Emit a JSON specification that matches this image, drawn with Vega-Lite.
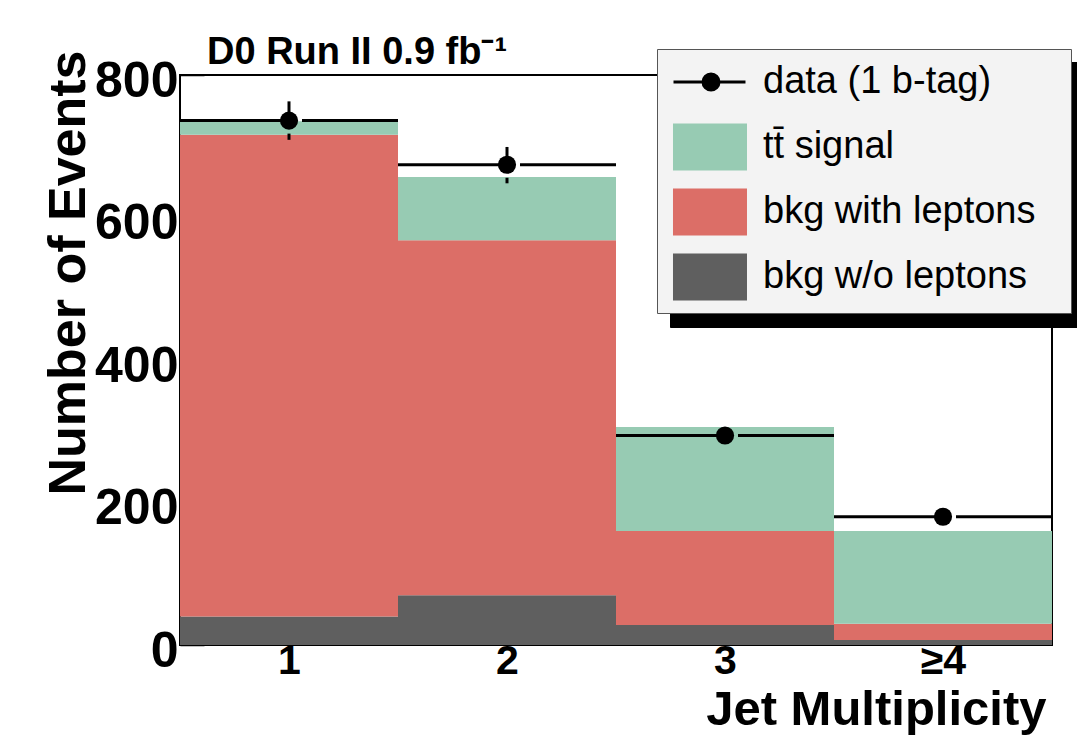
{
  "$schema": "https://vega.github.io/schema/vega-lite/v6.json",
  "width": 872,
  "height": 570,
  "autosize": {"type": "none"},
  "padding": {"left": 180, "top": 75, "right": 25, "bottom": 104},
  "background": "white",
  "title": {
    "text": "D0 Run II 0.9 fb⁻¹",
    "anchor": "start",
    "frame": "group",
    "dx": 27,
    "offset": -53,
    "baseline": "alphabetic",
    "font": "Liberation Sans",
    "fontSize": 38,
    "fontWeight": "bold",
    "color": "black"
  },
  "config": {
    "view": {"stroke": "black", "strokeWidth": 2},
    "axis": {
      "grid": false,
      "domain": false,
      "zindex": 1,
      "labelFont": "Liberation Sans",
      "labelFontWeight": "bold",
      "labelColor": "black",
      "titleFont": "Liberation Sans",
      "titleFontWeight": "bold",
      "titleColor": "black",
      "tickColor": "black",
      "tickWidth": 1.5,
      "labelOverlap": false,
      "labelFlush": false,
      "labelBound": false
    }
  },
  "datasets": {
    "stacks": [
      {"bin": "1", "lo": 0, "hi": 1, "component": "bkg w/o leptons", "order": 1, "n": 40},
      {"bin": "1", "lo": 0, "hi": 1, "component": "bkg with leptons", "order": 2, "n": 676},
      {"bin": "1", "lo": 0, "hi": 1, "component": "tt̄ signal", "order": 3, "n": 19},
      {"bin": "2", "lo": 1, "hi": 2, "component": "bkg w/o leptons", "order": 1, "n": 70},
      {"bin": "2", "lo": 1, "hi": 2, "component": "bkg with leptons", "order": 2, "n": 498},
      {"bin": "2", "lo": 1, "hi": 2, "component": "tt̄ signal", "order": 3, "n": 89},
      {"bin": "3", "lo": 2, "hi": 3, "component": "bkg w/o leptons", "order": 1, "n": 28},
      {"bin": "3", "lo": 2, "hi": 3, "component": "bkg with leptons", "order": 2, "n": 132},
      {"bin": "3", "lo": 2, "hi": 3, "component": "tt̄ signal", "order": 3, "n": 146},
      {"bin": "≥4", "lo": 3, "hi": 4, "component": "bkg w/o leptons", "order": 1, "n": 7},
      {"bin": "≥4", "lo": 3, "hi": 4, "component": "bkg with leptons", "order": 2, "n": 23},
      {"bin": "≥4", "lo": 3, "hi": 4, "component": "tt̄ signal", "order": 3, "n": 130}
    ],
    "observed": [
      {"bin": "1", "lo": 0, "mid": 0.5, "hi": 1, "series": "data (1 b-tag)", "events": 736, "up": 763, "down": 709},
      {"bin": "2", "lo": 1, "mid": 1.5, "hi": 2, "series": "data (1 b-tag)", "events": 674, "up": 699, "down": 648},
      {"bin": "3", "lo": 2, "mid": 2.5, "hi": 3, "series": "data (1 b-tag)", "events": 294, "up": 311, "down": 277},
      {"bin": "≥4", "lo": 3, "mid": 3.5, "hi": 4, "series": "data (1 b-tag)", "events": 180, "up": 193, "down": 167}
    ]
  },
  "layer": [
    {
      "data": {"name": "stacks"},
      "transform": [
        {"stack": "n", "groupby": ["bin"], "sort": [{"field": "order", "order": "ascending"}], "as": ["y0", "y1"]}
      ],
      "mark": {"type": "rect", "strokeWidth": 0},
      "encoding": {
        "x": {
          "field": "lo",
          "type": "quantitative",
          "scale": {"domain": [0, 4], "nice": false, "zero": false},
          "axis": {
            "values": [0.5, 1, 1.5, 2, 2.5, 3, 3.5],
            "labelExpr": "datum.value % 1 === 0.5 ? (datum.value === 3.5 ? '≥4' : format(datum.value + 0.5, 'd')) : ''",
            "tickSize": {"condition": {"test": "datum.value % 1 === 0", "value": -18}, "value": 0},
            "labelPadding": -4,
            "labelFontSize": 41,
            "labelBaseline": "top",
            "title": "Jet Multiplicity",
            "titleFontSize": 49,
            "titleAnchor": "end",
            "titleAlign": "right",
            "titleBaseline": "alphabetic",
            "titleX": 866,
            "titleY": 79
          }
        },
        "x2": {"field": "hi"},
        "y": {
          "field": "y0",
          "type": "quantitative",
          "scale": {"domain": [0, 800], "nice": false},
          "axis": {
            "values": [0, 50, 100, 150, 200, 250, 300, 350, 400, 450, 500, 550, 600, 650, 700, 750, 800],
            "labelExpr": "datum.value % 200 === 0 ? datum.label : ''",
            "format": "d",
            "tickSize": {"condition": {"test": "datum.value % 200 === 0", "value": -24}, "value": -12},
            "labelPadding": 26,
            "labelFontSize": 50,
            "labelOffset": 6,
            "title": "Number of Events",
            "titleFontSize": 52,
            "titleAnchor": "end",
            "titleAlign": "right",
            "titleBaseline": "alphabetic",
            "titleAngle": 270,
            "titleX": -96,
            "titleY": -25
          }
        },
        "y2": {"field": "y1"},
        "color": {
          "field": "component",
          "type": "nominal",
          "scale": {
            "domain": ["data (1 b-tag)", "tt̄ signal", "bkg with leptons", "bkg w/o leptons"],
            "range": ["#000000", "#97cbb3", "#dc6e67", "#5f5f5f"]
          },
          "legend": {
            "orient": "none",
            "legendX": 477,
            "legendY": -26,
            "title": "\u00a0",
            "titleOrient": "right",
            "titleFontSize": 1,
            "titlePadding": 30,
            "zindex": 3,
            "fillColor": "#f3f3f3",
            "strokeColor": "#555555",
            "padding": 6,
            "rowPadding": 5,
            "labelFont": "Liberation Sans",
            "labelFontSize": 38,
            "labelFontWeight": "normal",
            "labelColor": "black",
            "labelLimit": 600,
            "labelOffset": 46,
            "symbolSize": 2601,
            "encode": {
              "symbols": {
                "update": {
                  "shape": {"signal": "datum.value === 'data (1 b-tag)' ? 'M-0.667,-0.922M2.235,0.922M-0.647,0H2.176M1.138,0A0.314,0.314,0,1,1,0.51,0A0.314,0.314,0,1,1,1.138,0Z' : 'M-0.667,-0.922H2.235V0.922H-0.667Z'"},
                  "stroke": {"signal": "datum.value === 'data (1 b-tag)' ? 'black' : 'transparent'"},
                  "strokeWidth": {"value": 3},
                  "size": {"value": 2601},
                  "opacity": {"value": 1}
                }
              }
            }
          }
        }
      }
    },
    {
      "data": {"name": "observed"},
      "mark": {"type": "rule", "color": "black", "strokeWidth": 3},
      "encoding": {
        "x": {"field": "lo", "type": "quantitative"},
        "x2": {"field": "mid"},
        "x2Offset": {"value": -13},
        "y": {"field": "events", "type": "quantitative"}
      }
    },
    {
      "data": {"name": "observed"},
      "mark": {"type": "rule", "color": "black", "strokeWidth": 3},
      "encoding": {
        "x": {"field": "mid", "type": "quantitative"},
        "xOffset": {"value": 13},
        "x2": {"field": "hi"},
        "y": {"field": "events", "type": "quantitative"}
      }
    },
    {
      "data": {"name": "observed"},
      "transform": [{"filter": "(datum.up - datum.events) > 20"}],
      "mark": {"type": "rule", "color": "black", "strokeWidth": 3},
      "encoding": {
        "x": {"field": "mid", "type": "quantitative"},
        "y": {"field": "up", "type": "quantitative"},
        "y2": {"field": "events"},
        "y2Offset": {"value": -13}
      }
    },
    {
      "data": {"name": "observed"},
      "transform": [{"filter": "(datum.up - datum.events) > 20"}],
      "mark": {"type": "rule", "color": "black", "strokeWidth": 3},
      "encoding": {
        "x": {"field": "mid", "type": "quantitative"},
        "y": {"field": "events", "type": "quantitative"},
        "yOffset": {"value": 13},
        "y2": {"field": "down"}
      }
    },
    {
      "data": {"name": "observed"},
      "mark": {"type": "point", "filled": true, "color": "black", "size": 330, "opacity": 1},
      "encoding": {
        "x": {"field": "mid", "type": "quantitative"},
        "y": {"field": "events", "type": "quantitative"},
        "shape": {
          "field": "series",
          "type": "nominal",
          "scale": {
            "domain": ["tt̄ signal", "data (1 b-tag)", "bkg with leptons", "bkg w/o leptons"],
            "range": ["circle", "circle", "circle", "circle"]
          },
          "legend": {
            "orient": "none",
            "legendX": 490,
            "legendY": -13,
            "title": "\u00a0",
            "titleOrient": "right",
            "titleFontSize": 1,
            "titlePadding": 351,
            "zindex": 2,
            "fillColor": "black",
            "strokeColor": "black",
            "padding": 6,
            "rowPadding": 9,
            "labelFont": "Liberation Sans",
            "labelFontSize": 38,
            "labelColor": "black",
            "labelOffset": 0,
            "labelExpr": "''",
            "symbolSize": 2601,
            "encode": {
              "symbols": {
                "update": {
                  "shape": {"signal": "'M-0.667,-0.922H2.235V0.922H-0.667Z'"},
                  "fill": {"value": "black"},
                  "stroke": {"value": "black"},
                  "strokeWidth": {"value": 3},
                  "size": {"value": 2601},
                  "opacity": {"value": 1}
                }
              }
            }
          }
        }
      }
    }
  ]
}
